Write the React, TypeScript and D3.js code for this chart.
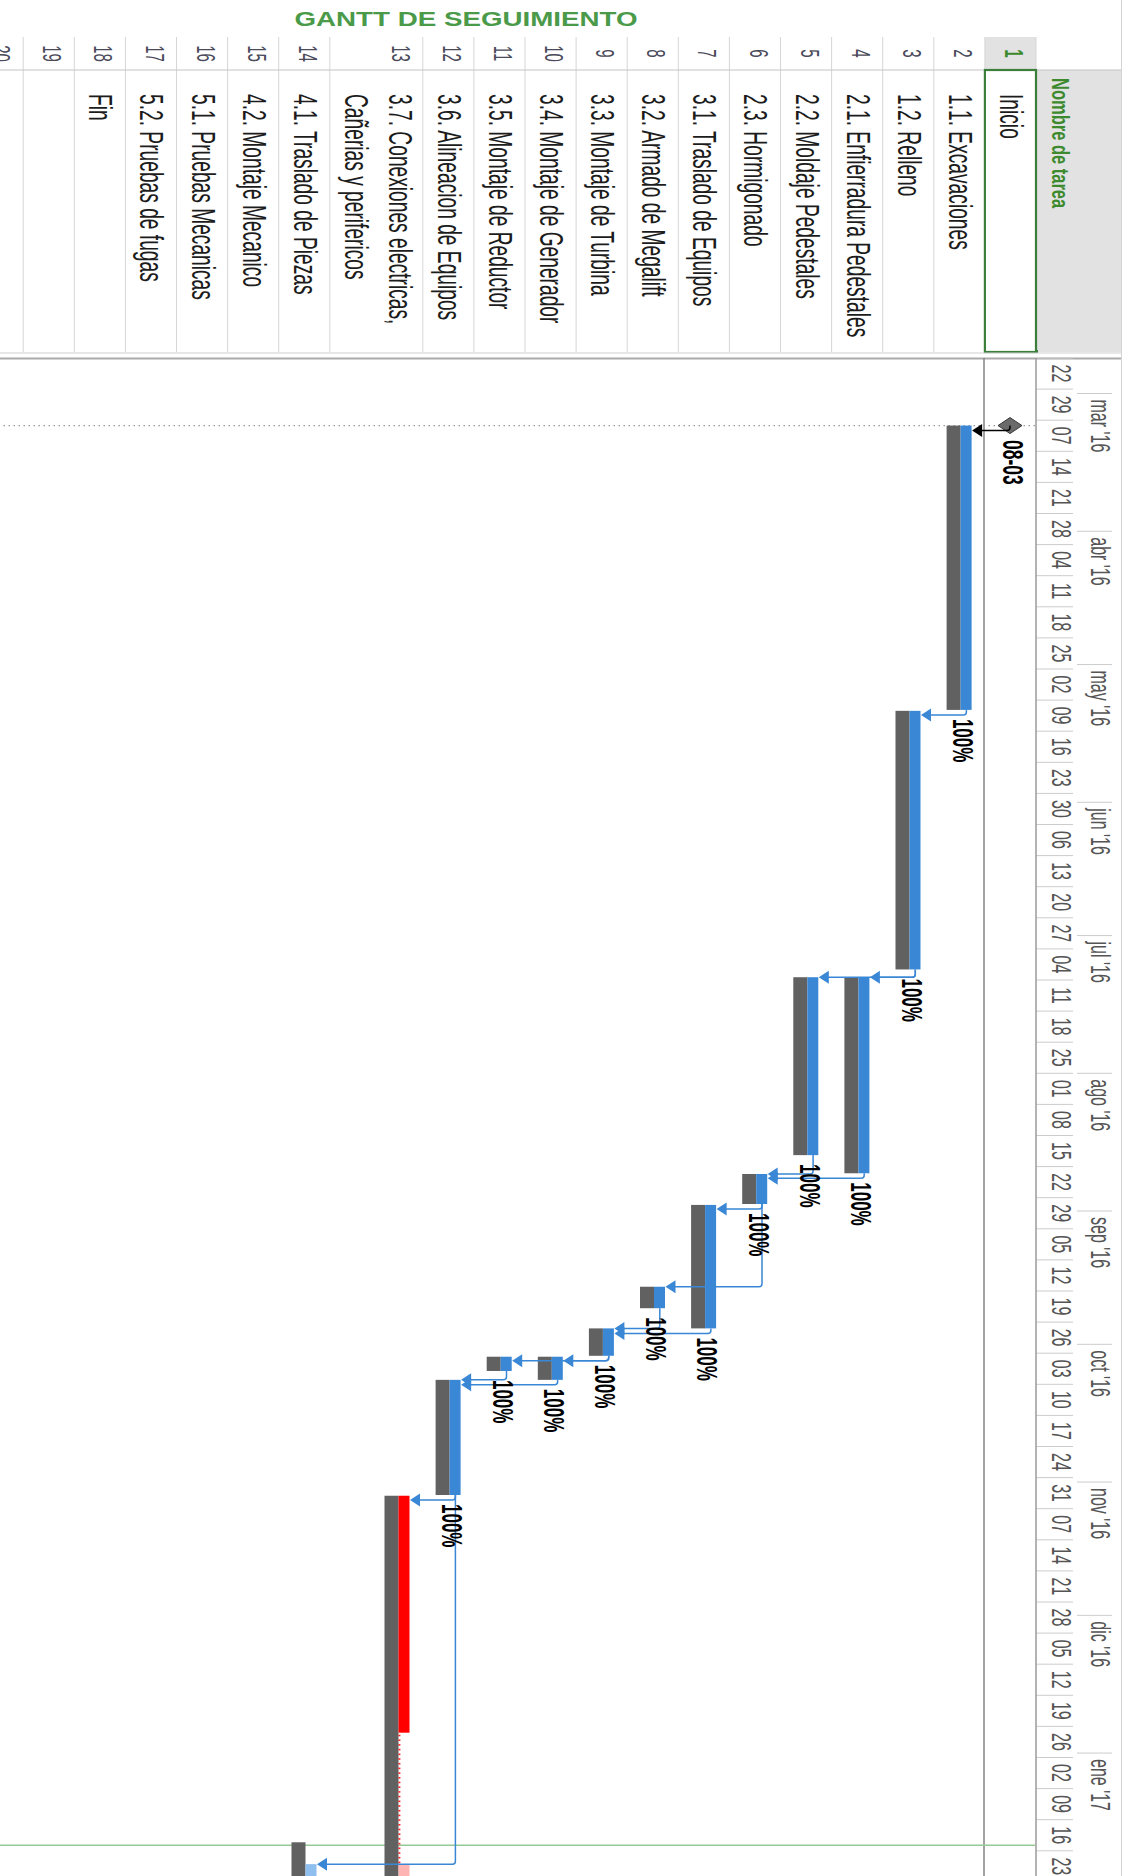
import React from "react";
import * as d3 from "d3";

const W = 1131;
const H = 1876;

// ---------- data ----------
const chartTitle = "GANTT DE SEGUIMIENTO";
const columnHeader = "Nombre de tarea";
const rowNumbers = [1, 2, 3, 4, 5, 6, 7, 8, 9, 10, 11, 12, 13, 14, 15, 16, 17, 18, 19, 20];

const taskNames: string[][] = [
  ["Inicio"],
  ["1.1. Excavaciones"],
  ["1.2. Relleno"],
  ["2.1. Enfierradura Pedestales"],
  ["2.2. Moldaje Pedestales"],
  ["2.3. Hormigonado"],
  ["3.1. Traslado de Equipos"],
  ["3.2. Armado de Megalift"],
  ["3.3. Montaje de Turbina"],
  ["3.4. Montaje de Generador"],
  ["3.5. Montaje de Reductor"],
  ["3.6. Alineacion de Equipos"],
  ["3.7. Conexiones electricas,", "Cañerias y perifericos"],
  ["4.1. Traslado de Piezas"],
  ["4.2. Montaje Mecanico"],
  ["5.1. Pruebas Mecanicas"],
  ["5.2. Pruebas de fugas"],
  ["Fin"],
  [""],
  [""],
];

const taskStart = [
  "2016-03-08 05:00",
  "2016-03-08 05:00",
  "2016-05-11 10:00",
  "2016-07-10 09:00",
  "2016-07-10 09:00",
  "2016-08-23 16:00",
  "2016-08-30 15:00",
  "2016-09-18 01:00",
  "2016-09-27 10:00",
  "2016-10-03 19:00",
  "2016-10-03 19:00",
  "2016-10-09 00:00",
  "2016-11-04 02:00",
  "2017-01-26 00:00",
  "", "", "", "", "", "",
];
const taskFinish = [
  "2016-03-08 05:00",
  "2016-05-11 05:00",
  "2016-07-08 15:00",
  "2016-08-23 12:00",
  "2016-08-19 10:00",
  "2016-08-30 10:00",
  "2016-09-27 10:00",
  "2016-09-22 21:00",
  "2016-10-03 14:00",
  "2016-10-09 00:00",
  "2016-10-07 00:00",
  "2016-11-03 22:00",
  "2017-02-28 17:00",
  "2017-02-10 17:00",
  "", "", "", "", "", "",
];
const baselineStart = [
  "",
  "2016-03-08 05:00",
  "2016-05-11 10:00",
  "2016-07-10 09:00",
  "2016-07-10 09:00",
  "2016-08-23 16:00",
  "2016-08-30 15:00",
  "2016-09-18 01:00",
  "2016-09-27 10:00",
  "2016-10-03 19:00",
  "2016-10-03 19:00",
  "2016-10-09 00:00",
  "2016-11-04 02:00",
  "2017-01-21 02:00",
  "", "", "", "", "", "",
];
const baselineFinish = [
  "",
  "2016-05-11 05:00",
  "2016-07-08 15:00",
  "2016-08-23 12:00",
  "2016-08-19 10:00",
  "2016-08-30 10:00",
  "2016-09-27 10:00",
  "2016-09-22 21:00",
  "2016-10-03 14:00",
  "2016-10-09 00:00",
  "2016-10-07 00:00",
  "2016-11-03 22:00",
  "2017-03-10 17:00",
  "2017-02-05 17:00",
  "", "", "", "", "", "",
];
const percentComplete: (number | null)[] = [
  null, 100, 100, 100, 100, 100, 100, 100, 100, 100, 100, 100,
  null, null, null, null, null, null, null, null,
];
const criticalTask = [
  false, false, false, false, false, false, false, false, false, false, false, false,
  true, false, false, false, false, false, false, false,
];
const progressEnd = [
  "", "", "", "", "", "", "", "", "", "", "", "",
  "2016-12-27 10:00", "", "", "", "", "", "", "",
];
// predecessor -> successor (row ids)
const links: [number, number][] = [
  [1, 2], [2, 3], [3, 4], [3, 5], [4, 6], [5, 6], [6, 7], [6, 8],
  [7, 9], [8, 9], [9, 10], [9, 11], [10, 12], [11, 12], [12, 13], [12, 14],
];
const statusDate = "2017-01-21 18:00";
const lightFromDate = "2017-01-26 00:00";
const monthNames = ["ene", "feb", "mar", "abr", "may", "jun", "jul", "ago", "sep", "oct", "nov", "dic"];
const axisStart = "2016-02-22 00:00";
const axisRef = "2017-01-23 00:00";
const axisEnd = "2017-01-31 00:00";

// ---------- style ----------
const FONT = "'Liberation Sans', Arial, sans-serif";
const S = 1.7; // vertical text stretch of the screenshot
const BLUE = "#3a87d5";
const GREY = "#616161";

export default function App() {
  const parse = d3.timeParse("%Y-%m-%d %H:%M");
  const p = (s: string) => parse(s) as Date;
  const x = d3.scaleTime().domain([p(axisStart), p(axisRef)]).range([358, 1850.8]);
  const fmtDay = d3.timeFormat("%d");
  const fmtYY = d3.timeFormat("%y");
  const fmtDM = d3.timeFormat("%d-%m");

  const rowTops: number[] = [];
  let acc = 95;
  taskNames.forEach((n) => {
    rowTops.push(acc);
    acc += n.length > 1 ? 93 : 51.1;
  });
  const rowBottoms = rowTops.map((t, i) => t + (taskNames[i].length > 1 ? 93 : 51.1));

  const weeks = d3.timeMonday.range(p(axisStart), p(axisEnd));
  const months = d3.timeMonth.range(p(axisStart), p(axisEnd)).filter((m) => m >= p(axisStart));

  const st = (tx: number, ty: number, s = S) => `translate(${tx},${ty}) scale(1,${s})`;
  const clipX = (v: number) => Math.min(v, H + 20);

  const isMilestone = (i: number) => taskStart[i] !== "" && taskStart[i] === taskFinish[i];
  const lightX = x(p(lightFromDate));

  // bars
  const bars: React.ReactNode[] = [];
  taskNames.forEach((_, i) => {
    const top = rowTops[i];
    if (baselineStart[i]) {
      const x0 = x(p(baselineStart[i]));
      const x1 = clipX(x(p(baselineFinish[i])));
      bars.push(<rect key={`bl${i}`} x={x0} y={top + 24.3} width={x1 - x0} height={14} fill={GREY} />);
    }
    if (!taskStart[i]) return;
    if (isMilestone(i)) {
      const cx = x(p(taskStart[i]));
      const cy = top + 26;
      bars.push(
        <path key={`ms${i}`} d={`M${cx - 8},${cy} L${cx},${cy - 12} L${cx + 8},${cy} L${cx},${cy + 12} Z`}
          fill="#6a6a6a" stroke="#3a3a3a" strokeWidth={1} />
      );
      return;
    }
    const x0 = x(p(taskStart[i]));
    const x1 = clipX(x(p(taskFinish[i])));
    const by = top + 13.3;
    if (criticalTask[i]) {
      const xp = x(p(progressEnd[i]));
      bars.push(<rect key={`cr${i}`} x={x0} y={by} width={xp - x0} height={11} fill="#ff0000" />);
      d3.range(xp + 2, Math.min(lightX, x1), 4.7).forEach((tx, k) => {
        bars.push(<rect key={`tk${i}_${k}`} x={tx} y={top + 22.4} width={1.6} height={2} fill="#ff2020" />);
      });
      if (x1 > lightX) bars.push(<rect key={`pk${i}`} x={lightX} y={by} width={x1 - lightX} height={11} fill="#ffb4b4" />);
    } else {
      const xa = Math.min(x1, Math.max(x0, lightX));
      if (xa > x0) bars.push(<rect key={`tb${i}`} x={x0} y={by} width={xa - x0} height={11} fill={BLUE} />);
      if (x1 > lightX) {
        const xs = Math.max(x0, lightX);
        bars.push(<rect key={`lb${i}`} x={xs} y={by} width={x1 - xs} height={11} fill="#8fbfee" />);
      }
    }
  });

  // links
  const linkEls = links.map(([a, b], k) => {
    const i = a - 1;
    const j = b - 1;
    const predEnd = x(p(taskFinish[i]));
    const predY = isMilestone(i) ? rowTops[i] + 26 : rowTops[i] + 18.5;
    const dropX = Math.max(x(p(taskStart[j])), predEnd + 5);
    const tipY = rowTops[j] + 12.8;
    const baseY = tipY - 10;
    const col = isMilestone(i) ? "#000000" : BLUE;
    const r = 3;
    return (
      <g key={`lk${k}`}>
        <path d={`M${predEnd},${predY} H${dropX - r} Q${dropX},${predY} ${dropX},${predY + r} V${baseY + 1}`}
          fill="none" stroke={col} strokeWidth={1.5} />
        <path d={`M${dropX - 6.5},${baseY} L${dropX + 6.5},${baseY} L${dropX},${tipY} Z`} fill={col} />
      </g>
    );
  });

  // labels
  const labels: React.ReactNode[] = [];
  taskNames.forEach((_, i) => {
    if (isMilestone(i)) {
      labels.push(
        <text key={`ml${i}`} transform={st(x(p(taskStart[i])) + 14.5, rowTops[i] + 33)} fontFamily={FONT}
          fontWeight="bold" fontSize={17.5} fill="#000">{fmtDM(p(taskStart[i]))}</text>
      );
    } else if (percentComplete[i] !== null && taskFinish[i]) {
      labels.push(
        <text key={`pl${i}`} transform={st(x(p(taskFinish[i])) + 9, rowTops[i] + 32)} fontFamily={FONT}
          fontWeight="bold" fontSize={17} fill="#000">{`${percentComplete[i]}%`}</text>
      );
    }
  });

  const dotX = x(p(taskStart[0]));
  const statX = x(p(statusDate));

  return (
    <div style={{ position: "absolute", left: 0, top: 0, width: W, height: H, overflow: "hidden", background: "#fff" }}>
      <svg width={W} height={H} viewBox={`0 0 ${W} ${H}`} style={{ display: "block" }}>
        <rect x={0} y={0} width={W} height={H} fill="#ffffff" />
        <text transform={`translate(466,26) scale(1.5,1.05)`} textAnchor="middle" fontFamily={FONT}
          fontWeight="bold" fontSize={18.5} fill="#4a9a4a">{chartTitle}</text>

        <g transform={`translate(${W},0) rotate(90)`}>
          {/* table header */}
          <rect x={70} y={10} width={282} height={85} fill="#e2e2e2" />
          <rect x={37} y={rowTops[0]} width={33} height={rowBottoms[0] - rowTops[0]} fill="#e2e2e2" />
          {rowTops.map((t, i) => (
            <line key={`rs${i}`} x1={37} x2={352} y1={t} y2={t} stroke="#d6d6d6" strokeWidth={1} />
          ))}
          <line x1={70} x2={70} y1={10} y2={W} stroke="#c4c4c4" strokeWidth={1.2} />
          <line x1={0} x2={H} y1={9.5} y2={9.5} stroke="#d4d4d4" strokeWidth={1} />
          <text transform={st(78, 79, 1.45)} fontFamily={FONT} fontWeight="bold" fontSize={16.5} fill="#3d8a2e">
            {columnHeader}
          </text>
          {rowNumbers.map((n, i) => (
            <text key={`rn${i}`} transform={st(53.5, rowTops[i] + 31)} textAnchor="middle" fontFamily={FONT}
              fontSize={15} fontWeight={i === 0 ? "bold" : "normal"} fill={i === 0 ? "#3d8a2e" : "#4a4a5a"}>
              {n}
            </text>
          ))}
          {taskNames.map((lines, i) =>
            lines.map((ln, k) => (
              <text key={`tn${i}_${k}`}
                transform={st(94, lines.length > 1 ? rowTops[i] + 34 + k * 44 : (rowTops[i] + rowBottoms[i]) / 2 + 10.5)}
                fontFamily={FONT} fontSize={19.2} fill="#1c1c1c">
                {ln}
              </text>
            ))
          )}
          <rect x={70} y={rowTops[0]} width={282} height={rowBottoms[0] - rowTops[0]} fill="none"
            stroke="#3b7f3b" strokeWidth={2.2} />
          <rect x={350} y={93} width={3} height={3} fill="#3b7f3b" />
          {/* split bar */}
          <line x1={353} x2={353} y1={10} y2={W} stroke="#cfcfcf" strokeWidth={1} />
          <line x1={358.5} x2={358.5} y1={10} y2={W} stroke="#a9a9a9" strokeWidth={2} />

          {/* timescale */}
          {weeks.map((d, i) => (
            <g key={`wk${i}`}>
              <line x1={x(d)} x2={x(d)} y1={58} y2={95} stroke="#cccccc" strokeWidth={1} />
              <text transform={st(x(d) + 15.5, 79)} textAnchor="middle" fontFamily={FONT} fontSize={16}
                fill="#555555">{fmtDay(d)}</text>
            </g>
          ))}
          {months.map((m, i) => (
            <g key={`mo${i}`}>
              <line x1={x(m)} x2={x(m)} y1={19} y2={54} stroke="#cccccc" strokeWidth={1} />
              <text transform={st(x(m) + 6, 40)} fontFamily={FONT} fontSize={16} fill="#555555">
                {`${monthNames[m.getMonth()]} '${fmtYY(m)}`}
              </text>
            </g>
          ))}
          <line x1={358} x2={H} y1={95} y2={95} stroke="#9a9a9a" strokeWidth={1.5} />
          <line x1={358} x2={H} y1={147} y2={147} stroke="#858585" strokeWidth={1.5} />

          {/* chart lines */}
          <line x1={dotX} x2={dotX} y1={96} y2={W} stroke="#9a9a9a" strokeWidth={1.2} strokeDasharray="1.5 3.5" />
          <line x1={statX} x2={statX} y1={96} y2={W} stroke="#95c995" strokeWidth={1.5} />

          {bars}
          {linkEls}
          {labels}
        </g>
      </svg>
    </div>
  );
}
